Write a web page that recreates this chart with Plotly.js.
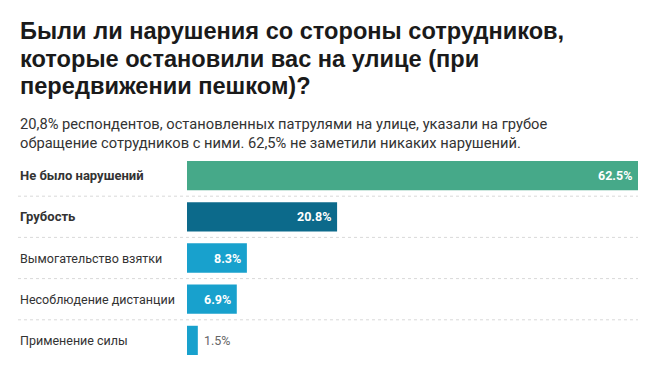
<!DOCTYPE html>
<html>
<head>
<meta charset="utf-8">
<script src="https://cdn.plot.ly/plotly-3.0.1.min.js"></script>
<style>html,body{margin:0;padding:0;background:#fff;}#chart{width:654px;height:370px;}</style>
</head>
<body>
<div id="chart"></div>
<script>
const categories = ["Не было нарушений", "Грубость", "Вымогательство взятки", "Несоблюдение дистанции", "Применение силы"];
const values = [62.5, 20.8, 8.3, 6.9, 1.5];
const valueLabels = ["62.5%", "20.8%", "8.3%", "6.9%", "1.5%"];
const boldCategory = [true, true, false, false, false];
const barColors = ["#46a989", "#0c6a8b", "#18a1cd", "#18a1cd", "#18a1cd"];
const titleLines = ["Были ли нарушения со стороны сотрудников,", "которые остановили вас на улице (при", "передвижении пешком)?"];
const subtitleText = "20,8% респондентов, остановленных патрулями на улице, указали на грубое<br>обращение сотрудников с ними. 62,5% не заметили никаких нарушений.";

const W = 654, H = 370;
const mL = 187, mR = 16, mT = 155, mB = 9;
const plotW = W - mL - mR;
const plotH = H - mT - mB;
const labelX = (18 - mL) / plotW;
const py = p => (H - mB - p) / plotH;

const annotations = [];
titleLines.forEach((t, i) => {
  annotations.push({
    xref: 'paper', yref: 'paper', x: labelX, y: py(31 + i * 27.5),
    xanchor: 'left', yanchor: 'middle', showarrow: false,
    text: '<b>' + t + '</b>',
    font: {family: 'Liberation Sans', size: 23.6, color: '#1a1a1a'}
  });
});
categories.forEach((c, i) => {
  annotations.push({
    xref: 'paper', yref: 'y', x: labelX, y: c, xanchor: 'left', yanchor: 'middle',
    text: boldCategory[i] ? '<b>' + c + '</b>' : c, showarrow: false,
    font: {family: 'Roboto', size: boldCategory[i] ? 13 : 12.5, color: '#333333'}
  });
  const inside = values[i] > 5;
  annotations.push({
    xref: 'x', yref: 'y', x: values[i], y: c,
    xanchor: inside ? 'right' : 'left', xshift: inside ? -4 : 4, yanchor: 'middle',
    text: inside ? '<b>' + valueLabels[i] + '</b>' : valueLabels[i], showarrow: false,
    font: {family: 'Roboto', size: 12.5, color: inside ? '#ffffff' : '#666666'}
  });
});
annotations.push({
  xref: 'paper', yref: 'paper', x: labelX, y: py(113),
  xanchor: 'left', yanchor: 'top', align: 'left', showarrow: false,
  text: subtitleText, font: {family: 'Roboto', size: 14.7, color: '#333333'}
});

const shapes = [];
for (let i = 0; i < categories.length - 1; i++) {
  shapes.push({
    type: 'line', xref: 'paper', yref: 'y', x0: labelX, x1: 1, y0: i + 0.5, y1: i + 0.5,
    line: {color: '#d9d9d9', width: 1, dash: 'dot'}
  });
}

const data = [{
  type: 'bar', orientation: 'h', y: categories, x: values,
  marker: {color: barColors}, hoverinfo: 'none', width: 0.71
}];

const layout = {
  width: W, height: H,
  margin: {l: mL, r: mR, t: mT, b: mB},
  paper_bgcolor: '#fff', plot_bgcolor: '#fff',
  showlegend: false,
  xaxis: {range: [0, 62.5], visible: false, fixedrange: true},
  yaxis: {autorange: 'reversed', showticklabels: false, showgrid: false, zeroline: false, showline: false, ticks: '', fixedrange: true},
  annotations: annotations,
  shapes: shapes
};

Plotly.newPlot('chart', data, layout, {displayModeBar: false, staticPlot: true});
</script>
</body>
</html>
